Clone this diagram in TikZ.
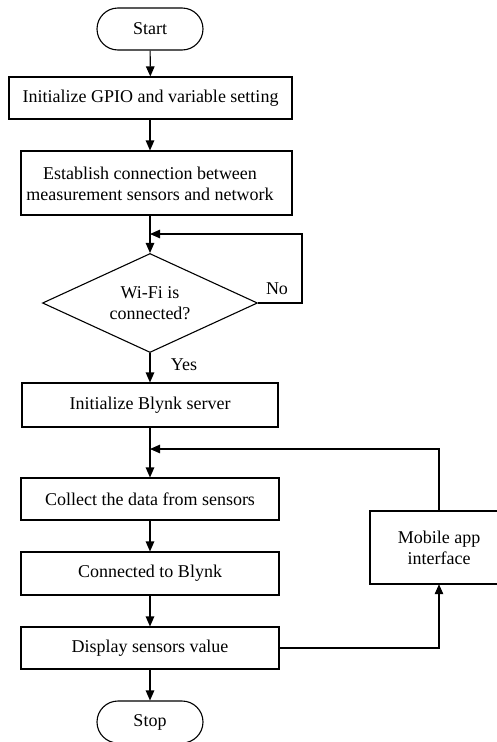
\documentclass[tikz,border=0pt]{standalone}
\usepackage{fontspec}
\setmainfont{Liberation Serif}
\usetikzlibrary{arrows.meta,shapes.geometric}
\begin{document}
\begin{tikzpicture}[x=1pt,y=-1pt,
  every node/.style={font=\fontsize{18}{21}\selectfont},
  box/.style={draw,line width=1.1pt,rectangle,inner sep=0pt,align=center},
  term/.style={draw,line width=1.1pt,rectangle,rounded corners=21pt,minimum width=106pt,minimum height=42pt,inner sep=0pt},
  dec/.style={draw,line width=1.1pt,diamond,aspect=2.17,minimum width=215pt,minimum height=99pt,inner sep=0pt,align=center},
  arr/.style={line width=1.1pt,-{Triangle[length=10pt,width=8.5pt]}},
  ln/.style={line width=1.1pt},
  lbl/.style={inner sep=0pt}]
\useasboundingbox (0,0) rectangle (497,742);
\node[term] (start) at (150,29) {Start};
\node[box,minimum width=283pt,minimum height=42pt] (b1) at (150.5,98) {Initialize GPIO and variable setting};
\node[box,minimum width=271pt,minimum height=64pt] (b2) at (156.5,183) {};
\node[align=center,inner sep=0pt] (b2t) at (150,184) {Establish connection between\\measurement sensors and network};
\node[dec] (d) at (150,303) {Wi-Fi is\\connected?};
\node[box,minimum width=256pt,minimum height=44pt] (b3) at (150,405) {Initialize Blynk server};
\node[box,minimum width=258pt,minimum height=42pt] (b4) at (150,499) {Collect the data from sensors};
\node[box,minimum width=258pt,minimum height=43pt] (b5) at (150,573.5) {Connected to Blynk};
\node[box,minimum width=258pt,minimum height=42pt] (b6) at (150,648) {Display sensors value};
\node[term] (stop) at (150,722) {Stop};
\draw[ln] (530,511) -- (370,511) -- (370,584) -- (530,584);
\node[align=center,inner sep=0pt,minimum width=138pt,minimum height=73pt] (m) at (439,547.5) {Mobile app\\interface};
\coordinate (c1) at (150,234);
\coordinate (c2) at (302,234);
\coordinate (c3) at (150,449);
\node[lbl] (no) at (277,289) {No};
\node[lbl] (yes) at (184,365) {Yes};
\draw[arr] (start) -- (b1);
\draw[arr] (b1.south -| start) -- (b2.north -| start);
\draw[arr] (b2.south -| start) -- (d.north);
\draw[arr] (d.east) -| (c2) -- (c1);
\draw[arr] (d.south) -- (b3.north);
\draw[arr] (b3.south) -- (b4.north);
\draw[arr] (b4) -- (b5);
\draw[arr] (b5) -- (b6);
\draw[arr] (b6) -- (stop);
\draw[arr] (b6.east) -| (m.south);
\draw[arr] (m.north) |- (c3);
\end{tikzpicture}
\end{document}
